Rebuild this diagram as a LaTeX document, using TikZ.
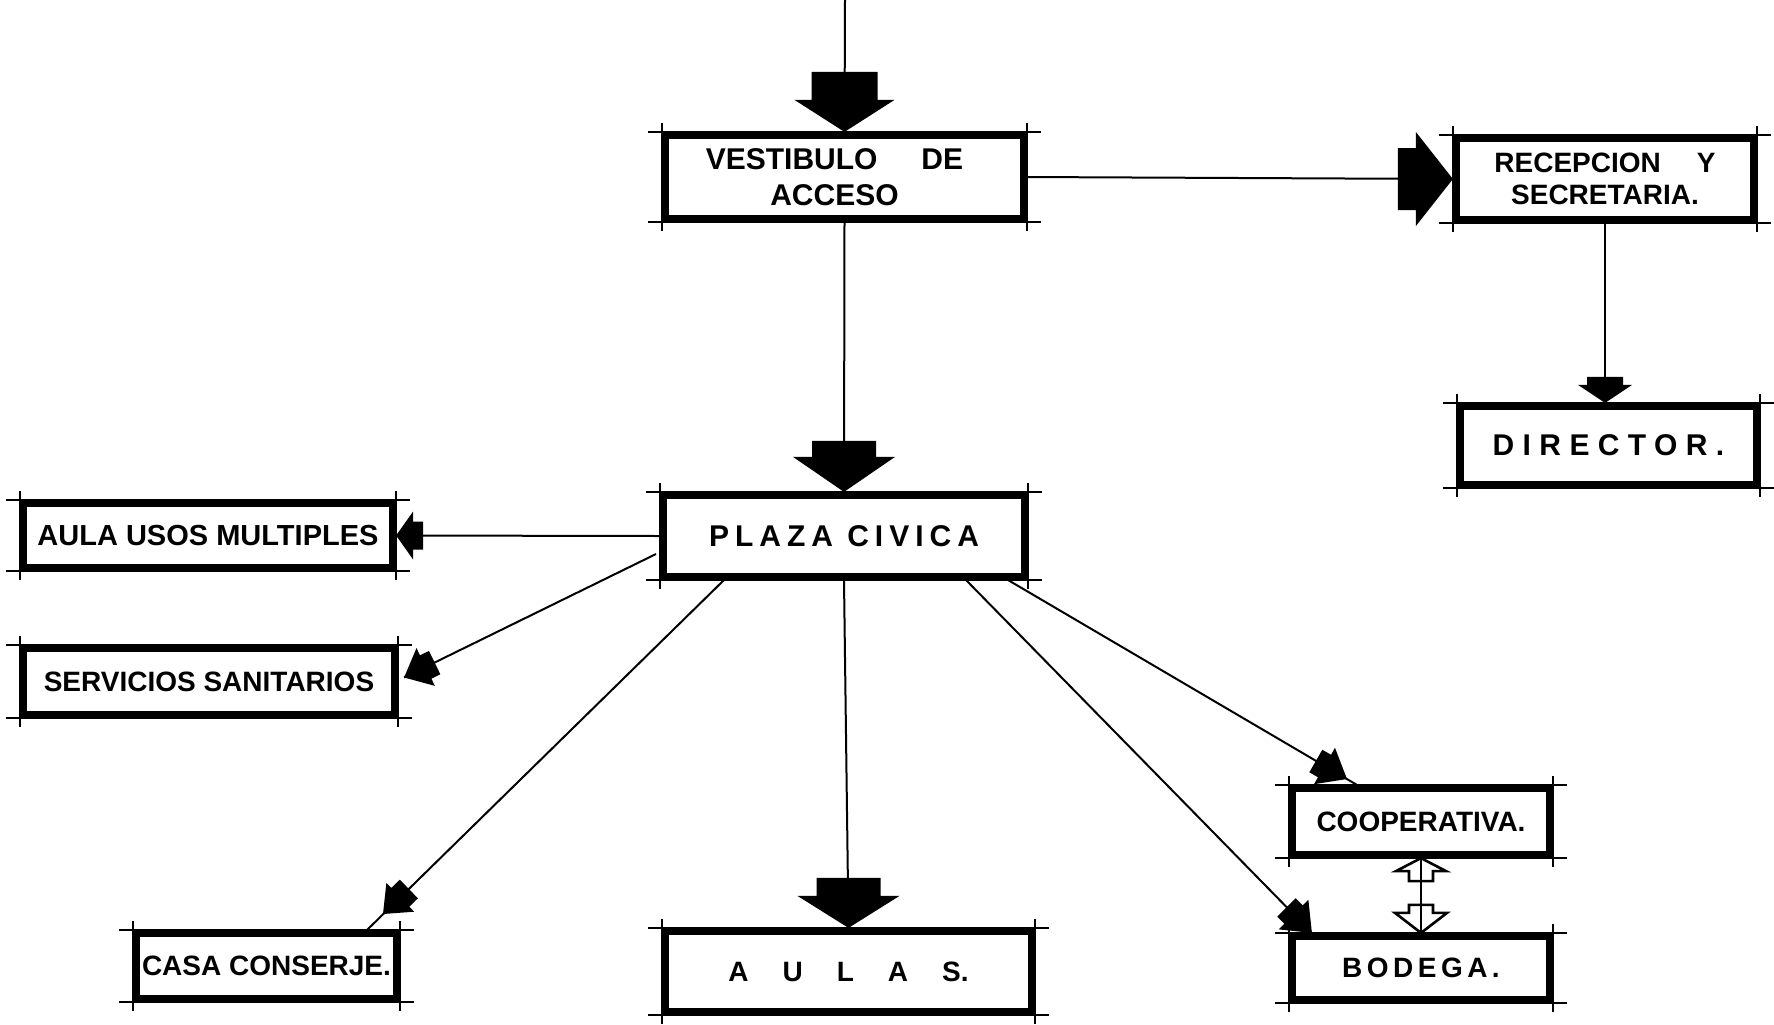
\documentclass[tikz,border=0pt]{standalone}
\usepackage{fontspec}
\newfontfamily\lab{Liberation Sans}
\begin{document}
\begin{tikzpicture}[x=0.5pt,y=-0.5pt,
  bx/.style={draw, line width=3.6pt, inner sep=0pt, align=center},
  link/.style={line width=1pt},
  tk/.style={line width=0.8pt},
  pics/barrow/.style n args={4}{code={\fill (0,0) -- (-#3,#2) -- (-#3,#1) -- ({-#3-#4},#1) -- ({-#3-#4},-#1) -- (-#3,-#1) -- (-#3,-#2) -- cycle;}},
  pics/harrow/.style n args={4}{code={\filldraw[fill=white,line width=1.3pt,line join=miter] (0,0) -- (-#3,#2) -- (-#3,#1) -- ({-#3-#4},#1) -- ({-#3-#4},-#1) -- (-#3,-#1) -- (-#3,-#2) -- cycle;}}
]
\fill[white] (0,0) rectangle (1774,1024);
\useasboundingbox (0,0) rectangle (1774,1024);

% boxes
\node[bx, minimum width=179pt, minimum height=41.5pt, font=\lab\bfseries\fontsize{15}{18}\selectfont] (vest) at (844.5,177) {VESTIBULO\hspace{22pt}DE\hspace*{10pt}\\ACCESO\hspace*{10pt}};
\node[bx, minimum width=148.5pt, minimum height=40.5pt, font=\lab\bfseries\fontsize{14}{16}\selectfont] (recep) at (1605,179) {RECEPCION\hspace{18pt}Y\\SECRETARIA.};
\node[bx, minimum width=148pt, minimum height=39pt, font=\lab\bfseries\fontsize{15}{18}\selectfont] (dir) at (1608.5,445.5) {\addfontfeatures{LetterSpace=28}DIRECTOR.};
\node[bx, minimum width=180.5pt, minimum height=40.5pt, font=\lab\bfseries\fontsize{15}{18}\selectfont] (plaza) at (844,536) {\addfontfeatures{LetterSpace=20}PLAZA CIVICA};
\node[bx, minimum width=184.5pt, minimum height=32pt, font=\lab\bfseries\fontsize{14.5}{17}\selectfont] (aum) at (208,535.5) {AULA USOS MULTIPLES};
\node[bx, minimum width=185.5pt, minimum height=33pt, font=\lab\bfseries\fontsize{14}{17}\selectfont] (serv) at (209,681.5) {SERVICIOS SANITARIOS};
\node[bx, minimum width=130pt, minimum height=32.5pt, font=\lab\bfseries\fontsize{14}{17}\selectfont] (casa) at (266.5,966) {CASA CONSERJE.};
\node[bx, minimum width=183pt, minimum height=40pt, font=\lab\bfseries\fontsize{14}{17}\selectfont] (aulas) at (848.5,971.5) {\spaceskip=17pt A U L A S.};
\node[bx, minimum width=128.5pt, minimum height=33pt, font=\lab\bfseries\fontsize{14}{17}\selectfont] (coop) at (1421,821.5) {COOPERATIVA.};
\node[bx, minimum width=128.5pt, minimum height=31.5pt, font=\lab\bfseries\fontsize{14}{17}\selectfont] (bod) at (1421,968) {\addfontfeatures{LetterSpace=16}BODEGA.};

% drafting overshoot ticks
\foreach \n in {vest,recep,dir,plaza,aum,serv,casa,aulas,coop,bod}{
  \draw[tk] ([xshift=-7pt]\n.north west) -- ([xshift=7pt]\n.north east);
  \draw[tk] ([xshift=-7pt]\n.south west) -- ([xshift=7pt]\n.south east);
  \draw[tk] ([yshift=4.5pt]\n.north west) -- ([yshift=-4.5pt]\n.south west);
  \draw[tk] ([yshift=4.5pt]\n.north east) -- ([yshift=-4.5pt]\n.south east);
}

% connectors
\coordinate (top) at (845,0);
\draw[link] (top) -- (vest.north);
\pic[rotate=-90] at (vest.north) {barrow={33}{50}{32}{28}};

\draw[link] (vest.south) -- (plaza.north);
\pic[rotate=-90] at (plaza.north) {barrow={32}{51}{35}{16}};

\draw[link] (vest.east) -- (recep.west);
\pic at (recep.west) {barrow={31}{47}{37}{18}};

\coordinate (dtop) at (recep.south |- dir.north);
\draw[link] (recep.south) -- (dtop);
\pic[rotate=-90] at (dtop) {barrow={18}{27}{18}{8}};

\draw[link] (plaza.west) -- (aum.east);
\pic[rotate=180] at (aum.east) {barrow={14}{24}{17}{10}};

\coordinate (ps) at (656,554);
\coordinate (se) at ([xshift=3pt,yshift=2pt]serv.east);
\draw[link] (ps) -- (se);
\pic[rotate=206] at (se) {barrow={13}{21}{24}{10}};

\coordinate (pc) at (724,580);
\coordinate (ce) at ([xshift=-16.5pt]casa.north east);
\coordinate (ct) at (383,914);
\draw[link] (pc) -- (ce);
\pic[rotate=224] at (ct) {barrow={13}{20}{24}{12}};

\draw[link] (plaza.south) -- (aulas.north);
\pic[rotate=-90] at (aulas.north) {barrow={32}{51}{32}{18}};

\coordinate (pb) at (966,580);
\coordinate (be) at ([xshift=11.5pt]bod.north west);
\draw[link] (pb) -- (be);
\pic[rotate=-45] at (be) {barrow={13}{21}{26}{10}};

\coordinate (pk) at (1008,580);
\coordinate (ke) at ([xshift=34pt]coop.north west);
\coordinate (kt) at (1347,779);
\draw[link] (pk) -- (ke);
\pic[rotate=-30] at (kt) {barrow={13}{21}{26}{10}};

\pic[rotate=90] at (coop.south) {harrow={12}{25}{13}{10}};
\pic[rotate=-90] at (bod.north) {harrow={12}{26}{20}{8}};
\draw[link] (coop.south) -- (bod.north);
\end{tikzpicture}
\end{document}
